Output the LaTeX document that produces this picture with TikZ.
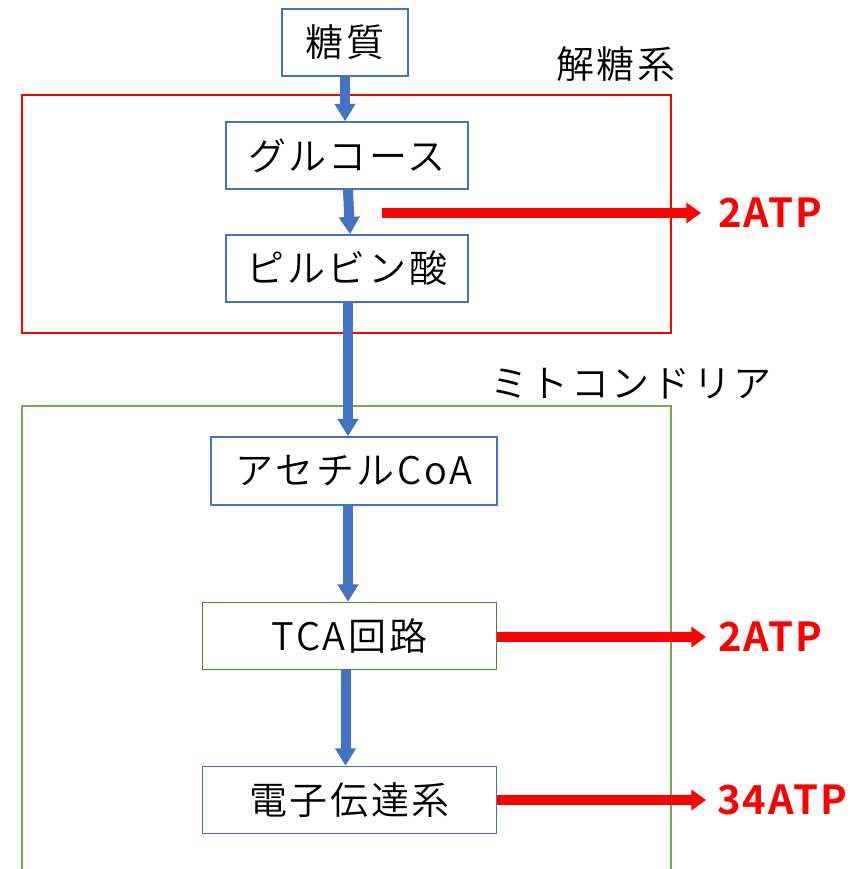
\documentclass[tikz,border=0pt]{standalone}
\usepackage{fontspec}
\setmainfont{Noto Sans CJK JP}[UprightFont={* DemiLight}, BoldFont={* Bold}, LetterSpace=7]
\newfontfamily\atpfont{Noto Sans CJK JP}[UprightFont={* Bold}, LetterSpace=5]
\usetikzlibrary{arrows.meta,calc}
\definecolor{oblue}{HTML}{4472C4}
\definecolor{ogreen}{HTML}{70AD47}
\definecolor{dgreen}{HTML}{548235}
\definecolor{ored}{HTML}{FF0000}
\tikzset{
  stepbox/.style={draw=oblue, line width=1.2pt, fill=white, inner sep=0pt, font=\fontsize{28.5}{32}\selectfont, minimum height={67*0.75pt}},
  flow/.style={draw=oblue, line width=7.5pt, -{Triangle[width=15pt,length=13pt]}},
  gain/.style={draw=ored, line width=7.5pt, -{Triangle[width=15pt,length=11pt]}},
  atp/.style={text=ored, font=\atpfont\fontsize{30}{34}\selectfont, inner sep=0pt, anchor=west},
  lbl/.style={font=\fontsize{28.5}{32}\selectfont, inner sep=0pt}
}
\begin{document}
\begin{tikzpicture}[x=0.75pt,y=-0.75pt]
\useasboundingbox (0,0) rectangle (861,869);
% regions
\draw[ored, line width=1.5pt] (22,95) rectangle (671,333);
\draw[ogreen, line width=1.5pt] (22,869) -- (22,406) -- (671,406) -- (671,869);
\node[lbl] (glyco) at (616,64) {解糖系};
\node[lbl] (mito) at (631,384) {ミトコンドリア};
% boxes
\node[stepbox, minimum width={126*0.75pt}] (tou) at (345,42.5) {糖質};
\node[stepbox, minimum width={242*0.75pt}] (glu) at (347,155.5) {グルコース};
\node[stepbox, minimum width={242*0.75pt}] (pyr) at (347,268.5) {ピルビン酸};
\node[stepbox, minimum width={286*0.75pt}, minimum height={68*0.75pt}] (ace) at (354,471) {アセチルCoA};
\node[stepbox, draw=dgreen, minimum width={294*0.75pt}] (tca) at (349.5,636) {TCA回路};
\node[stepbox, minimum width={294*0.75pt}] (etc) at (349.5,800) {電子伝達系};
% flow arrows
\draw[flow] (tou.south) -- (tou.south |- glu.north);
\draw[flow] ($(glu.south)+(1,0)$) -- ($(pyr.north)+(3,0)$);
\draw[flow] ($(pyr.south)+(1,0)$) -- ($(pyr.south |- ace.north)+(1,0)$);
\draw[flow] ($(pyr.south |- ace.south)+(1,0)$) -- ($(pyr.south |- tca.north)+(1,0)$);
\draw[flow] ($(tca.south)+(-4,0)$) -- ($(etc.north)+(-4,0)$);
% ATP outputs
\node[atp] (atp1) at (718,213) {2ATP};
\node[atp] (atp2) at (718,637) {2ATP};
\node[atp] (atp3) at (717,800) {34ATP};
\coordinate (g1) at (382,213);
\draw[gain] (g1) -- ($(atp1.west)+(-17,0)$);
\draw[gain] (tca.east |- atp2.west) -- ($(atp2.west)+(-12,0)$);
\draw[gain] (etc.east |- atp3.west) -- ($(atp3.west)+(-11,0)$);
\end{tikzpicture}
\end{document}
